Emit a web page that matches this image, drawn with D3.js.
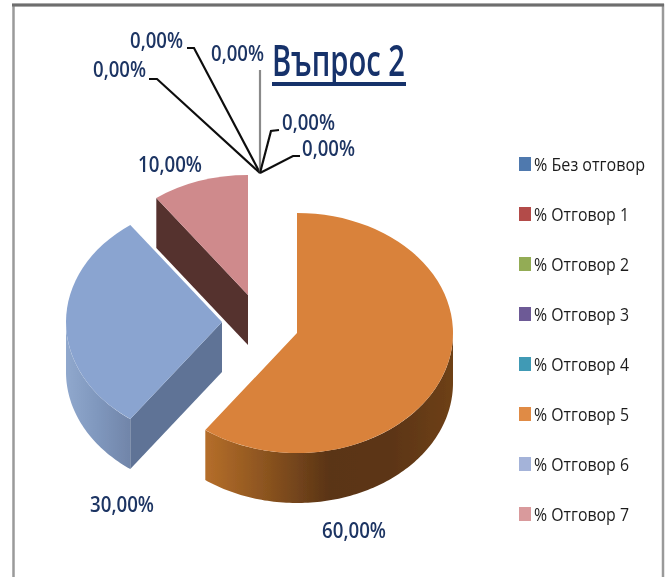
<!DOCTYPE html>
<html>
<head>
<meta charset="utf-8">
<script src="https://cdn.jsdelivr.net/npm/d3@7"></script>
<style>
  html, body { margin: 0; padding: 0; background: #fff; }
  svg { display: block; }
  text { font-family: "Open Sans", "Noto Sans", sans-serif; }
</style>
</head>
<body>
<svg width="668" height="577"></svg>
<script>
// Chart data
var categories = ["% Без отговор", "% Отговор 1", "% Отговор 2", "% Отговор 3", "% Отговор 4", "% Отговор 5", "% Отговор 6", "% Отговор 7"];
var values = [0, 0, 0, 0, 0, 60, 30, 10];
var valueLabels = ["0,00%", "0,00%", "0,00%", "0,00%", "0,00%", "60,00%", "30,00%", "10,00%"];
var chartTitle = "Въпрос 2";

// Colours per category
var legendColors = ["#4f79ae", "#b34b48", "#93ac55", "#6d5a96", "#3f9ab5", "#e08b44", "#a4b3d9", "#d99a9c"];
var topColors = ["#4f79ae", "#b34b48", "#93ac55", "#6d5a96", "#3f9ab5", "#d9823a", "#8aa4d0", "#cf8a8c"];
var cutColors = ["#333", "#333", "#333", "#333", "#333", "#5a3314", "#5e7396", "#55302f"];
var wallStops = {
  5: ["#b56e2a", "#8a531f", "#5a3416", "#5c3515", "#6e4018"],
  6: ["#90a8cd", "#7f97bd", "#7185a9"]
};

// Exploded slice centres, the pie is drawn as an ellipse
var centers = {
  5: [297, 333],
  6: [222, 322],
  7: [248, 295]
};
var rx = 156,
  ry = 120,
  depth = 50;

// Where the data labels sit [x, baseline]
var labelPos = [[93, 77], [130, 48], [211, 61], [282, 130], [302, 156], [322, 538], [90, 512], [138, 172]];
// Leader lines end in the same point above the pie
var leaderEnd = [260, 173];
var leaderKnee = [[149, 79, 157, 79], [187, 48, 194, 48], [260, 70, 260, 70], [279, 130, 271, 131], [300, 156, 293, 156]];

var svg = d3.select("svg");
var defs = svg.append("defs");

defs.append("filter")
  .attr("id", "soft")
  .attr("x", "-5%").attr("y", "-5%").attr("width", "110%").attr("height", "110%")
  .append("feGaussianBlur")
  .attr("stdDeviation", 0.6);

var g = svg.append("g").attr("filter", "url(#soft)");

// Frame of the pasted picture
g.append("path")
  .attr("d", "M13.5,577V5H663V577")
  .attr("fill", "none")
  .attr("stroke", "#9a9a9a")
  .attr("stroke-width", 2.5);

g.append("line")
  .attr("x1", 12)
  .attr("x2", 664)
  .attr("y1", 5)
  .attr("y2", 5)
  .attr("stroke", "#6e6e6e")
  .attr("stroke-width", 3);

var pie = d3.pie().sort(null).value(function (d) { return d; });
var arcs = pie(values);

var arc = d3.arc().innerRadius(0).outerRadius(rx);

// Point on the ellipse rim, angle measured clockwise from the top
function rim(c, a, dy) {
  return [c[0] + rx * Math.sin(a), c[1] - ry * Math.cos(a) + (dy || 0)];
}

var line = d3.line();

arcs.forEach(function (d, i) {
  if (d.value === 0) return;
  var c = centers[i];
  var slice = g.append("g");

  // Outer wall, only the part that faces the viewer
  var from = Math.max(d.startAngle, Math.PI / 2);
  var to = Math.min(d.endAngle, Math.PI * 1.5);
  if (from < to) {
    var grad = defs.append("linearGradient")
      .attr("id", "wall" + i)
      .attr("x1", 0)
      .attr("x2", 1)
      .attr("y1", 0)
      .attr("y2", 0);
    wallStops[i].forEach(function (col, k) {
      grad.append("stop")
        .attr("offset", k / (wallStops[i].length - 1))
        .attr("stop-color", col);
    });

    var steps = d3.range(from, to, 0.02).concat([to]);
    var upper = steps.map(function (a) { return rim(c, a, 0); });
    var lower = steps.map(function (a) { return rim(c, a, depth); }).reverse();
    slice.append("path")
      .attr("d", line(upper.concat(lower)) + "Z")
      .attr("fill", "url(#wall" + i + ")");
  }

  // Cut face along the first edge, visible on the left half only
  if (Math.sin(d.startAngle) < 0) {
    var p = rim(c, d.startAngle, 0);
    var q = rim(c, d.startAngle, depth);
    slice.append("path")
      .attr("d", line([c, p, q, [c[0], c[1] + depth]]) + "Z")
      .attr("fill", cutColors[i]);
  }

  // Top face
  slice.append("path")
    .attr("transform", "translate(" + c[0] + "," + c[1] + ") scale(1," + ry / rx + ")")
    .attr("d", arc(d))
    .attr("fill", topColors[i]);
});

// Leader lines for the empty slices
g.selectAll(".leader")
  .data(leaderKnee)
  .enter()
  .append("path")
  .attr("class", "leader")
  .attr("d", function (d) {
    return line([[d[0], d[1]], [d[2], d[3]], leaderEnd]);
  })
  .attr("fill", "none")
  .attr("stroke", function (d, i) { return i === 2 ? "#8a8a8a" : "#111"; })
  .attr("stroke-width", 2.2);

// Data labels
g.selectAll(".value-label")
  .data(valueLabels)
  .enter()
  .append("text")
  .attr("class", "value-label")
  .attr("x", function (d, i) { return labelPos[i][0]; })
  .attr("y", function (d, i) { return labelPos[i][1]; })
  .attr("font-size", 22)
  .attr("font-weight", 600)
  .attr("textLength", function (d) { return d.length === 5 ? 53 : 64; })
  .attr("lengthAdjust", "spacingAndGlyphs")
  .attr("fill", "#1f3564")
  .text(function (d) { return d; });

// Title
g.append("text")
  .attr("x", 272)
  .attr("y", 76)
  .attr("font-size", 43)
  .attr("font-weight", 600)
  .attr("textLength", 133)
  .attr("lengthAdjust", "spacingAndGlyphs")
  .attr("fill", "#17306b")
  .text(chartTitle);

g.append("line")
  .attr("x1", 272)
  .attr("x2", 406)
  .attr("y1", 84)
  .attr("y2", 84)
  .attr("stroke", "#17306b")
  .attr("stroke-width", 4);

// Legend
var legendY = d3.scalePoint().domain(categories).range([164, 514]);

var legend = g.selectAll(".legend-item")
  .data(categories)
  .enter()
  .append("g")
  .attr("class", "legend-item")
  .attr("transform", function (d) { return "translate(519," + legendY(d) + ")"; });

legend.append("rect")
  .attr("x", 0)
  .attr("y", -7)
  .attr("width", 12)
  .attr("height", 14)
  .attr("fill", function (d, i) { return legendColors[i]; });

legend.append("text")
  .attr("x", 15)
  .attr("y", 7)
  .attr("font-size", 19)
  .attr("font-weight", 500)
  .attr("textLength", function (d, i) { return i === 0 ? 111 : 95; })
  .attr("lengthAdjust", "spacingAndGlyphs")
  .attr("fill", "#1d1d1d")
  .text(function (d) { return d; });
</script>
</body>
</html>
